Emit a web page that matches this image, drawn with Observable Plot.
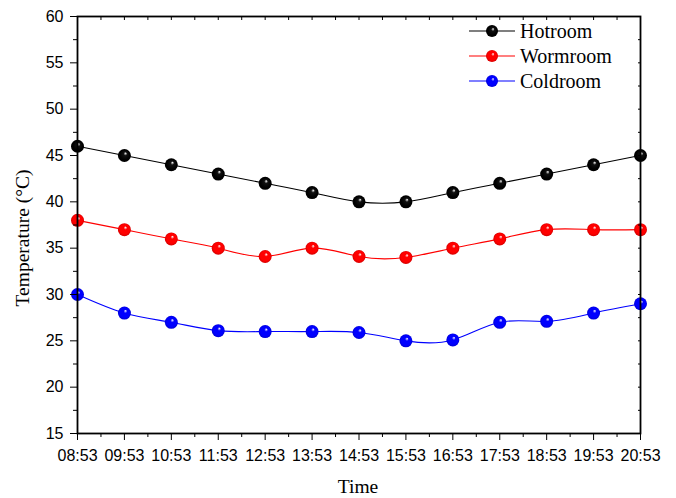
<!DOCTYPE html>
<html><head><meta charset="utf-8">
<script src="https://cdn.jsdelivr.net/npm/d3@7"></script>
<script src="https://cdn.jsdelivr.net/npm/@observablehq/plot@0.6"></script>
<style>body{margin:0;background:#fff}#chart{width:676px;height:498px}</style>
</head><body><div id="chart"></div>
<script>
const times = ["08:53","09:53","10:53","11:53","12:53","13:53","14:53","15:53","16:53","17:53","18:53","19:53","20:53"];
const hotroom  = [46,45,44,43,42,41,40,40,41,42,43,44,45];
const wormroom = [38,37,36,35,34.1,35,34.1,34,35,36,37,37,37];
const coldroom = [30,28,27,26.1,26,26,25.9,25,25.1,27,27.1,28,29];
const seriesNames = ["Hotroom","Wormroom","Coldroom"];
const seriesColors = ["#000000","#ff0000","#0000ff"];
const yTicks = [15,20,25,30,35,40,45,50,55,60];
const yMinor = [17.5,22.5,27.5,32.5,37.5,42.5,47.5,52.5,57.5];

const seriesVals = [hotroom, wormroom, coldroom];
const data = [];
seriesNames.forEach((s,k)=>seriesVals[k].forEach((v,i)=>data.push({i, t:times[i], series:s, v})));
const xMajor = times.map((_,i)=>i);
const xMinor = times.slice(1).map((_,i)=>i+0.5);
const gradIds = ["gHot","gWorm","gCold"];

const axisFont = "Liberation Sans, Arial, sans-serif";
const plot = Plot.plot({
  width: 676, height: 498,
  marginLeft: 77, marginRight: 36, marginTop: 16, marginBottom: 65,
  style: {fontFamily: axisFont, fontSize: "16px", color: "#000", background: "#fff"},
  x: {domain: [0, 12]},
  y: {domain: [15, 60]},
  color: {domain: seriesNames, range: seriesColors},
  marks: [
    Plot.line(data, {x: "i", y: "v", z: "series", stroke: "series", curve: "natural", strokeWidth: 1.1}),
    ...seriesNames.map((s,k)=>Plot.dot(data.filter(d=>d.series===s), {x: "i", y: "v", r: 6.5, fill: `url(#${gradIds[k]})`, stroke: "none"})),
    Plot.axisY({ticks: yTicks, tickSize: 7, tickPadding: 7, tickFormat: d=>String(d), label: null, fontSize: 16}),
    Plot.axisY({ticks: yMinor, tickSize: 4, tickFormat: ()=>"", label: null}),
    Plot.axisY({anchor: "right", ticks: yTicks.concat(yMinor), tickSize: -3, tickFormat: ()=>"", label: null}),
    Plot.axisX({ticks: xMajor, tickSize: 7, tickPadding: 9, tickFormat: i=>times[i], label: null, fontSize: 16}),
    Plot.axisX({ticks: xMinor, tickSize: 4, tickFormat: ()=>"", label: null}),
    Plot.axisX({anchor: "top", ticks: xMajor.concat(xMinor), tickSize: -3, tickFormat: ()=>"", label: null}),
    Plot.frame({stroke: "#000", strokeWidth: 1.8})
  ]
});
document.getElementById("chart").appendChild(plot);

const svg = d3.select(plot);
const defs = svg.insert("defs", ":first-child");
seriesColors.forEach((c,k)=>{
  const g = defs.append("radialGradient").attr("id", gradIds[k]).attr("cx","50%").attr("cy","50%").attr("r","50%").attr("fx","60%").attr("fy","32%");
  const mid = k===0 ? "#111" : c;
  const dark = k===0 ? "#000" : d3.color(c).darker(0.5).formatHex();
  g.append("stop").attr("offset","0%").attr("stop-color","#ffffff");
  g.append("stop").attr("offset","28%").attr("stop-color", mid);
  g.append("stop").attr("offset","75%").attr("stop-color", c);
  g.append("stop").attr("offset","100%").attr("stop-color", dark);
});

// Axis titles
const serif = "Liberation Serif, Times New Roman, serif";
svg.append("text").attr("x", 358).attr("y", 493).attr("text-anchor","middle")
  .style("font-family", serif).style("font-size","19.5px").text("Time");
svg.append("text").attr("transform","translate(29,238) rotate(-90)").attr("text-anchor","middle")
  .style("font-family", serif).style("font-size","19.5px").text("Temperature (°C)");

// Legend
const lg = svg.append("g");
seriesNames.forEach((s,k)=>{
  const y = 31 + k*25;
  lg.append("line").attr("x1",469).attr("x2",515).attr("y1",y).attr("y2",y).attr("stroke",seriesColors[k]).attr("stroke-width",1.1);
  lg.append("circle").attr("cx",492).attr("cy",y).attr("r",6).attr("fill",`url(#${gradIds[k]})`);
  lg.append("text").attr("x",520).attr("y",y).attr("dy","0.35em").attr("text-anchor","start")
    .style("font-family",serif).style("font-size","20px").text(s);
});
</script>
</body></html>
